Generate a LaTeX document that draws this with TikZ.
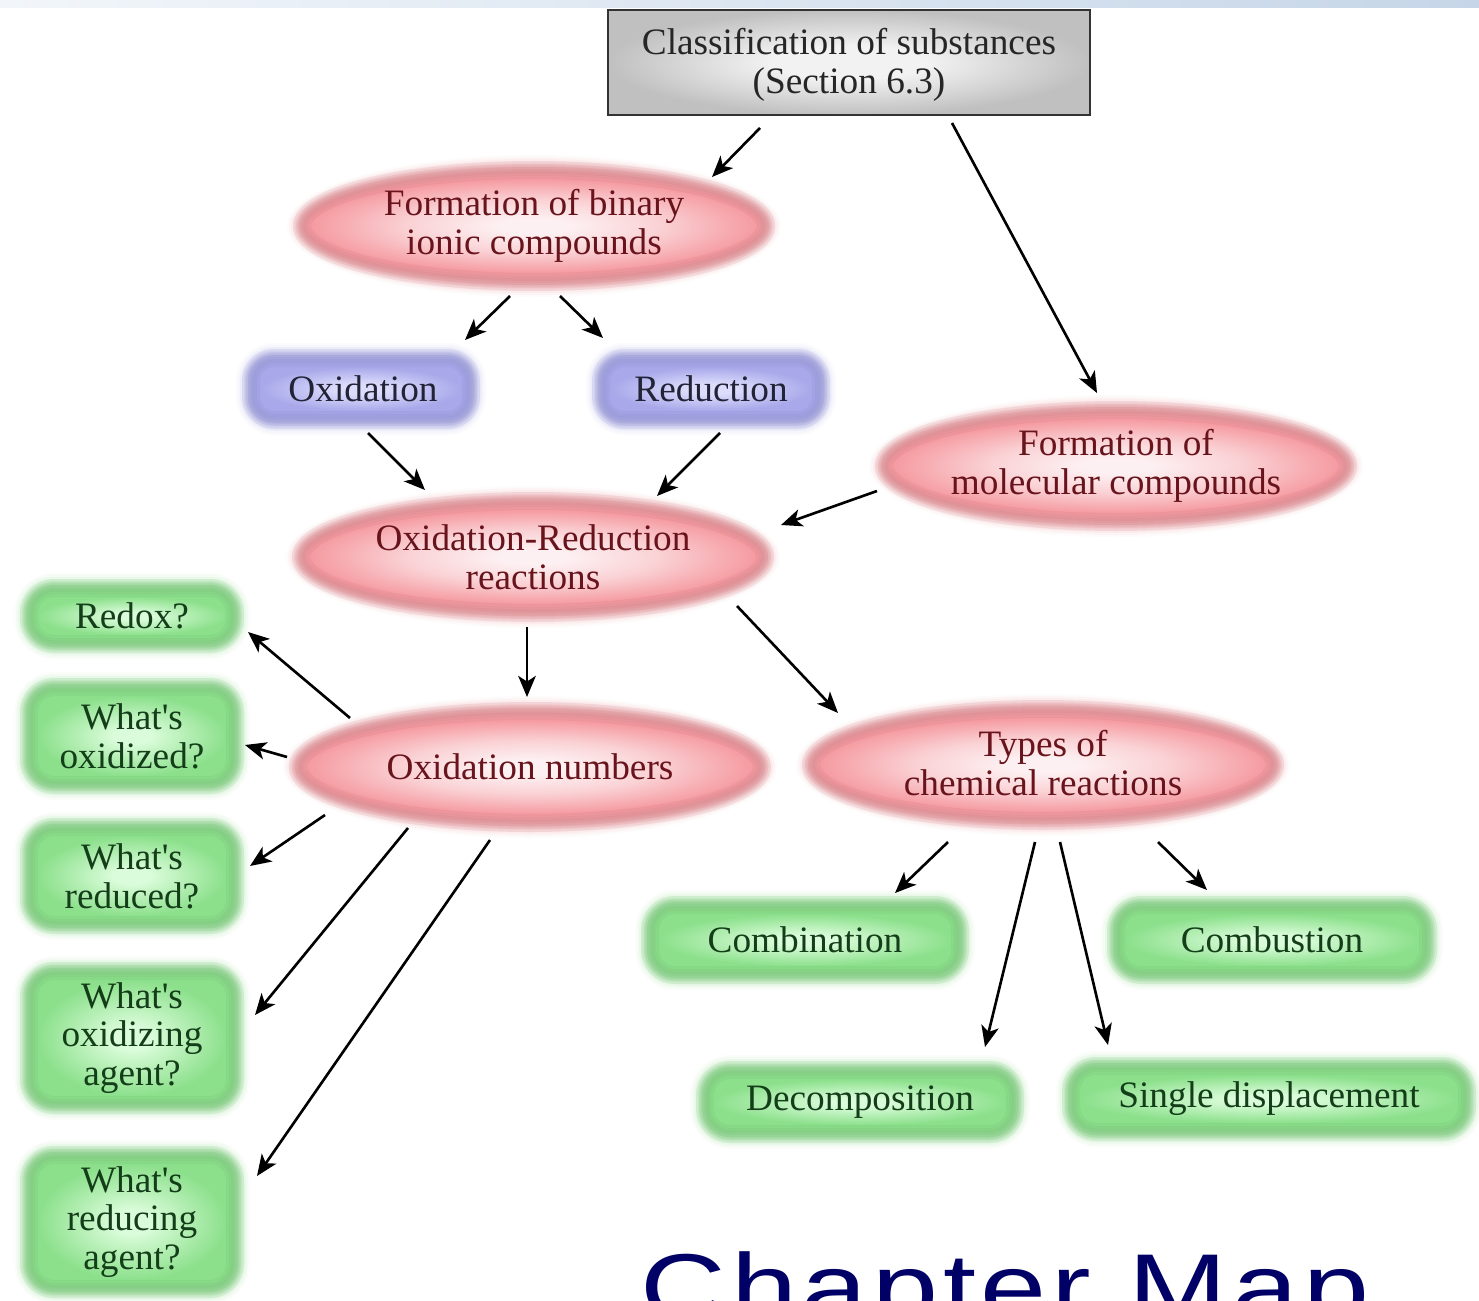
\documentclass[tikz,border=0pt]{standalone}
\usepackage{fontspec}
\setmainfont{Liberation Serif}
\newfontfamily\chapfont[LetterSpace=5,FakeStretch=1.25]{Liberation Sans}
\usetikzlibrary{shapes.geometric,arrows.meta}
\definecolor{pkc}{RGB}{253,240,242}
\definecolor{pkq}{RGB}{250,210,213}
\definecolor{pke}{RGB}{245,155,161}
\definecolor{pkr}{RGB}{175,95,104}
\definecolor{pkt}{RGB}{105,20,28}
\definecolor{blc}{RGB}{220,220,252}
\definecolor{ble}{RGB}{168,168,234}
\definecolor{blr}{RGB}{105,105,180}
\definecolor{blt}{RGB}{35,35,55}
\definecolor{gnc}{RGB}{218,252,218}
\definecolor{gne}{RGB}{140,224,140}
\definecolor{gnr}{RGB}{80,160,80}
\definecolor{gnt}{RGB}{20,62,25}
\definecolor{gyc}{RGB}{242,242,242}
\definecolor{gye}{RGB}{192,192,192}
\definecolor{navy}{RGB}{0,0,102}
\pgfdeclareradialshading{pinkshade}{\pgfpoint{0bp}{0bp}}{color(0bp)=(pkc); color(4bp)=(pkc); color(14bp)=(pkq); color(25bp)=(pke); color(50bp)=(pke)}
\pgfdeclareradialshading{blueshade}{\pgfpoint{0bp}{0bp}}{color(0bp)=(blc); color(6bp)=(blc); color(25bp)=(ble); color(50bp)=(ble)}
\pgfdeclareradialshading{greenshade}{\pgfpoint{0bp}{0bp}}{color(0bp)=(gnc); color(5bp)=(gnc); color(25bp)=(gne); color(50bp)=(gne)}
\pgfdeclareradialshading{grayshade}{\pgfpoint{0bp}{0bp}}{color(0bp)=(gyc); color(8bp)=(gyc); color(25bp)=(gye); color(50bp)=(gye)}
\def\blursteps{14/.04,12/.06,10/.09,8/.12,6/.16,4/.2,2/.25,0/.3,-2/.35,-4/.4,-6/.5,-8/.6}
% blurred ellipse: #1 x, #2 y, #3 semi-x, #4 semi-y (px), #5 base, #6 rim, #7 shading
\newcommand\blurell[7]{%
  \foreach \d/\o in \blursteps{
    \fill[#5, fill opacity=\o] (#1,#2) ellipse [x radius={(#3+(\d))*0.01cm}, y radius={(#4+(\d))*0.01cm}];
  }
  \shade[shading=#7] (#1,#2) ellipse [x radius={(#3-10)*0.01cm}, y radius={(#4-10)*0.01cm}];
  \foreach \w/\o in {18/.1,12/.1,7/.1}{
    \draw[#6, draw opacity=\o, line width=\w*0.01cm] (#1,#2) ellipse [x radius={(#3-1)*0.01cm}, y radius={(#4-1)*0.01cm}];
  }
}
% blurred rounded box: #1 x, #2 y, #3 half-w, #4 half-h, #5 corner r, #6 base, #7 rim, #8 shading
\newcommand\blurbox[8]{%
  \foreach \d/\o in \blursteps{
    \pgfmathsetlengthmacro\rr{max(1,#5+(\d))*0.01cm}
    \fill[#6, fill opacity=\o, rounded corners=\rr] ([shift={({-(#3)-(\d)},{-(#4)-(\d)})}]#1,#2) rectangle ([shift={({#3+(\d)},{#4+(\d)})}]#1,#2);
  }
  \pgfmathsetlengthmacro\rr{max(1,#5-10)*0.01cm}
  \shade[shading=#8, rounded corners=\rr] ([shift={({-(#3)+10},{-(#4)+10})}]#1,#2) rectangle ([shift={({#3-10},{#4-10})}]#1,#2);
  \pgfmathsetlengthmacro\rr{max(1,#5-1)*0.01cm}
  \foreach \w/\o in {18/.1,12/.1,7/.1}{
    \draw[#7, draw opacity=\o, line width=\w*0.01cm, rounded corners=\rr] ([shift={({-(#3)+1},{-(#4)+1})}]#1,#2) rectangle ([shift={({#3-1},{#4-1})}]#1,#2);
  }
}
\begin{document}
\begin{tikzpicture}[x=0.01cm,y=-0.01cm,
  base/.style={inner sep=0pt, align=center, font=\fontsize{10.6}{11}\selectfont},
  pinktext/.style={base, text=pkt},
  bluetext/.style={base, text=blt},
  greentext/.style={base, text=gnt},
  arr/.style={-{Stealth[length=6pt,width=5pt,inset=1.6pt]}, line width=.75pt, black}]
\useasboundingbox (0,0) rectangle (1479,1300);
\clip (0,0) rectangle (1479,1300);
\fill[white] (0,0) rectangle (1479,1300);
\shade[left color={rgb,255:red,242;green,246;blue,250}, right color={rgb,255:red,198;green,214;blue,232}] (0,0) rectangle (1479,8);

% shapes
\shade[shading=grayshade] (608,10) rectangle (1090,115);
\draw[gray!40!black, line width=.8pt] (608,10) rectangle (1090,115);
\blurell{534}{226}{233}{57}{pke}{pkr}{pinkshade}
\blurell{1116}{466}{233}{57}{pke}{pkr}{pinkshade}
\blurell{533}{557}{233}{57}{pke}{pkr}{pinkshade}
\blurell{530}{767}{233}{57}{pke}{pkr}{pinkshade}
\blurell{1043}{765}{233}{57}{pke}{pkr}{pinkshade}
\blurbox{361}{389}{111}{32}{24}{ble}{blr}{blueshade}
\blurbox{711}{389}{111}{32}{24}{ble}{blr}{blueshade}
\blurbox{132}{616}{104}{29}{26}{gne}{gnr}{greenshade}
\blurbox{132}{736}{104}{50}{26}{gne}{gnr}{greenshade}
\blurbox{132}{876}{104}{50}{26}{gne}{gnr}{greenshade}
\blurbox{132}{1038}{104}{68}{26}{gne}{gnr}{greenshade}
\blurbox{132}{1222}{104}{68}{26}{gne}{gnr}{greenshade}
\blurbox{805}{940}{156}{36}{26}{gne}{gnr}{greenshade}
\blurbox{1272}{940}{157}{36}{26}{gne}{gnr}{greenshade}
\blurbox{860}{1102}{156}{33}{26}{gne}{gnr}{greenshade}
\blurbox{1269}{1099}{199}{34}{26}{gne}{gnr}{greenshade}

% nodes
\node[base, text=black!85] (cls) at (849,65) {Classification of substances\\(Section 6.3)};
\node[pinktext] (fb) at (534,226) {Formation of binary\\ionic compounds};
\node[bluetext] (ox) at (363,389) {Oxidation};
\node[bluetext] (red) at (711,389) {Reduction};
\node[pinktext] (fm) at (1116,466) {Formation of\\molecular compounds};
\node[pinktext] (rr) at (533,557) {Oxidation-Reduction\\reactions};
\node[pinktext] (on) at (530,767) {Oxidation numbers};
\node[pinktext] (ty) at (1043,763) {Types of\\chemical reactions};
\node[greentext] (g1) at (132,616) {Redox?};
\node[greentext] (g2) at (132,736) {What\textquotesingle s\\oxidized?};
\node[greentext] (g3) at (132,876) {What\textquotesingle s\\reduced?};
\node[greentext] (g4) at (132,1038) {What\textquotesingle s\\oxidizing\\agent?};
\node[greentext] (g5) at (132,1222) {What\textquotesingle s\\reducing\\agent?};
\node[greentext] (comb) at (805,940) {Combination};
\node[greentext] (combu) at (1272,940) {Combustion};
\node[greentext] (dec) at (860,1102) {Decomposition};
\node[greentext] (sd) at (1269,1099) {Single displacement};
\node[anchor=base west, inner sep=0pt, text=navy, font=\chapfont\fontsize{27}{30}\selectfont] (cmap) at (640,1320) {Chapter Map};

% connectors
\draw[arr] ([shift={(-89,63)}]cls.center) -- ([shift={(178,-49)}]fb.center);
\draw[arr] ([shift={(103,58)}]cls.center) -- ([shift={(-19,-73)}]fm.center);
\draw[arr] ([shift={(-24,70)}]fb.center) -- ([shift={(102,-49)}]ox.center);
\draw[arr] ([shift={(26,70)}]fb.center) -- ([shift={(-108,-51)}]red.center);
\draw[arr] ([shift={(5,44)}]ox.center) -- ([shift={(-108,-67)}]rr.center);
\draw[arr] ([shift={(9,44)}]red.center) -- ([shift={(124,-61)}]rr.center);
\draw[arr] ([shift={(-239,25)}]fm.center) -- ([shift={(248,-32)}]rr.center);
\draw[arr] ([shift={(-6,70)}]rr.center) -- ([shift={(-3,-70)}]on.center);
\draw[arr] ([shift={(204,49)}]rr.center) -- ([shift={(-205,-50)}]ty.center);
\draw[arr] ([shift={(-180,-49)}]on.center) -- ([shift={(116,16)}]g1.center);
\draw[arr] ([shift={(-243,-10)}]on.center) -- ([shift={(113,9)}]g2.center);
\draw[arr] ([shift={(-205,48)}]on.center) -- ([shift={(118,-10)}]g3.center);
\draw[arr] ([shift={(-122,61)}]on.center) -- ([shift={(123,-23)}]g4.center);
\draw[arr] ([shift={(-40,73)}]on.center) -- ([shift={(125,-46)}]g5.center);
\draw[arr] ([shift={(-95,79)}]ty.center) -- ([shift={(90,-47)}]comb.center);
\draw[arr] ([shift={(-8,79)}]ty.center) -- ([shift={(125,-55)}]dec.center);
\draw[arr] ([shift={(17,79)}]ty.center) -- ([shift={(-161,-54)}]sd.center);
\draw[arr] ([shift={(115,79)}]ty.center) -- ([shift={(-65,-50)}]combu.center);
\end{tikzpicture}
\end{document}
